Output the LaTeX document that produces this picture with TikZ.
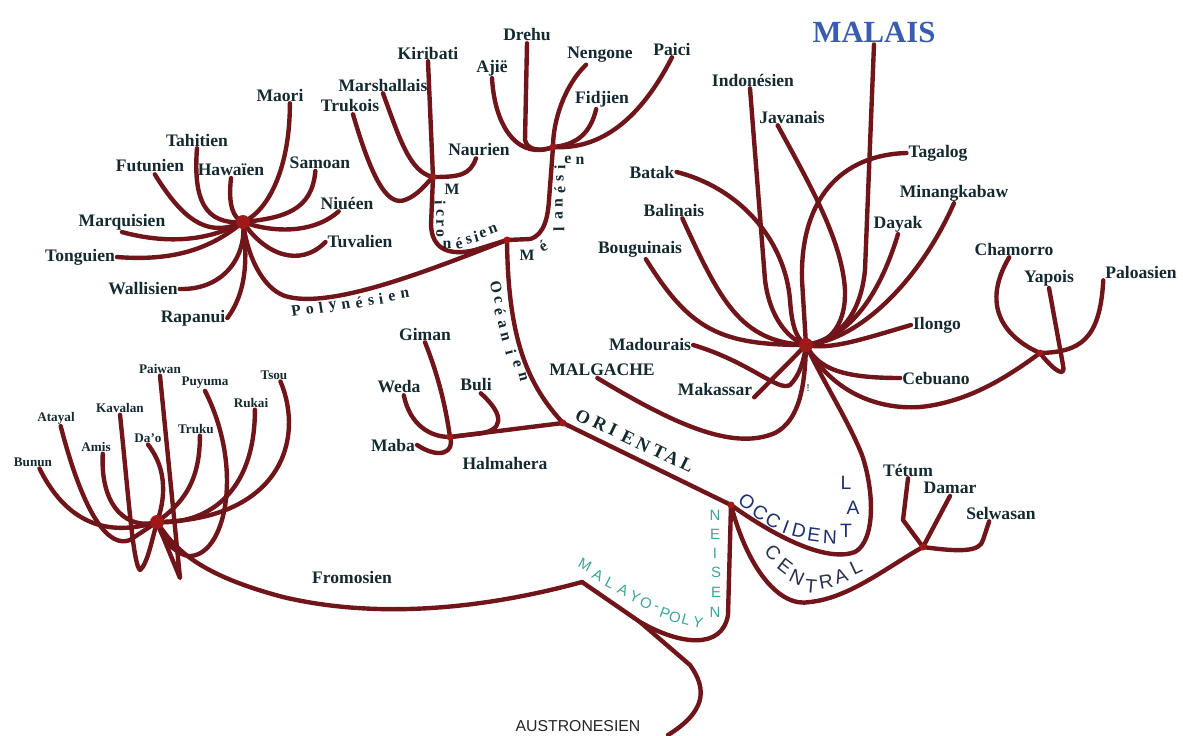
\documentclass[tikz,border=0pt]{standalone}
\usepackage{fontspec}
\setmainfont{Liberation Serif}
\setsansfont{Liberation Sans}

\definecolor{branch}{RGB}{112,22,26}
\definecolor{hubred}{RGB}{160,24,24}
\definecolor{ink}{RGB}{20,42,48}
\definecolor{malaisblue}{RGB}{58,92,175}
\definecolor{occblue}{RGB}{30,48,112}
\definecolor{centgrey}{RGB}{40,50,78}
\definecolor{mpteal}{RGB}{60,165,150}

\tikzset{
 br/.style={draw=branch,line width=2.5pt,line cap=round,line join=round},
 lang/.style={font=\fontsize{10}{12}\selectfont\bfseries,text=ink,inner sep=1pt},
 formo/.style={font=\fontsize{7.5}{8}\selectfont\bfseries,text=ink,inner sep=1pt},
 grp/.style={font=\fontsize{9}{10}\selectfont\bfseries,text=ink,inner sep=0pt},
 grpsans/.style={font=\fontsize{11}{12}\selectfont\sffamily,inner sep=0pt},
}

\begin{document}
\begin{tikzpicture}[x=.02cm,y=-.02cm]
 \fill[white] (0,0) rectangle (1183,735);
 \useasboundingbox (0,0) rectangle (1183,735);

 % junctions
 \coordinate (polyhub) at (243,222);
 \coordinate (microhub) at (433,177);
 \coordinate (melahub) at (553,147);
 \coordinate (polyjn) at (507,240);
 \coordinate (oriejn) at (563,423);
 \coordinate (halmajn) at (450,437);
 \coordinate (malhub) at (806,345);
 \coordinate (chamjn) at (1040,353);
 \coordinate (mpjn) at (731,505);
 \coordinate (tetjn) at (923,547);
 \coordinate (formhub) at (157,522);
 \coordinate (mpfjn) at (582,582);
 \coordinate (mpbr) at (640,622);
 \coordinate (rootend) at (668,735);

 % languages
 \foreach \n/\t/\x/\y in
  {maori/Maori/280/95,tahitien/Tahitien/197/140,hawaien/Hawaïen/231/170,futunien/Futunien/150/166,
   samoan/Samoan/320/163,niueen/Niuéen/347/203,marquisien/Marquisien/122/222,tuvalien/Tuvalien/360/242,
   tonguien/Tonguien/80/257,wallisien/Wallisien/143/289,rapanui/Rapanui/193/318,
   kiribati/Kiribati/428/53,marshallais/Marshallais/383/85,trukois/Trukois/350/106,naurien/Naurien/479/150,
   drehu/Drehu/527/35,ajie/Ajië/492/68,nengone/Nengone/600/55,fidjien/Fidjien/602/99,paici/Paici/672/49,
   indonesien/Indonésien/753/80,javanais/Javanais/792/117,tagalog/Tagalog/938/153,batak/Batak/652/172,
   balinais/Balinais/674/210,bouguinais/Bouguinais/640/249,dayak/Dayak/898/224,minangkabaw/Minangkabaw/954/193,
   ilongo/Ilongo/937/325,cebuano/Cebuano/936/378,makassar/Makassar/715/389,madourais/Madourais/650/345,
   malgache/MALGACHE/602/370,chamorro/Chamorro/1014/249,yapois/Yapois/1049/278,paloasien/Paloasien/1141/272,
   tetum/Tétum/908/470,damar/Damar/950/488,selwasan/Selwasan/1001/513,
   giman/Giman/425/334,weda/Weda/399/387,buli/Buli/476/385,maba/Maba/393/445,halmahera/Halmahera/505/463,
   fromosien/Fromosien/352/577}{
  \node[lang] (\n) at (\x,\y) {\t};}
 \foreach \n/\t/\x/\y in
  {paiwan/Paiwan/160/369,puyuma/Puyuma/205/383,tsou/Tsou/274/375,rukai/Rukai/251/403,kavalan/Kavalan/120/408,
   atayal/Atayal/56/418,truku/Truku/196/429,dao/Da'o/148/438,amis/Amis/96/447,bunun/Bunun/33/462}{
  \node[formo] (\n) at (\x,\y) {\t};}
 \node[lang,font=\fontsize{17.5}{20}\selectfont\bfseries,text=malaisblue] (malais) at (874,32) {MALAIS};
 \node[font=\fontsize{9}{10}\selectfont\sffamily,text=black!85,inner sep=0pt] (austro) at (578,726) {AUSTRONESIEN};
 \node[formo,font=\fontsize{6}{7}\selectfont] (bang) at (808,388) {!};

 % trunk
 \draw[br] (mpfjn) -- (mpbr) -- (690,665) .. controls (708,690) and (705,712) .. (rootend);
 \draw[br] (mpfjn) .. controls (450,618) and (350,613) .. (283,597) .. controls (200,575) and (175,550) .. (formhub);
 \draw[br] (mpbr) .. controls (680,645) and (722,650) .. (728,615) -- (mpjn);
 \draw[br] (mpjn) -- (oriejn);
 \draw[br] (oriejn) .. controls (528,385) and (508,340) .. (polyjn);
 \draw[br] (oriejn) -- (halmajn);
 \draw[br] (malgache.-120) .. controls (680,428) and (735,450) .. (775,433) .. controls (800,420) and (805,385) .. (malhub);
 \draw[br] (mpjn) .. controls (780,540) and (828,562) .. (855,552) .. controls (876,540) and (874,490) .. (862,455)
   .. controls (848,420) and (825,385) .. (malhub);
 \draw[br] (mpjn) .. controls (748,570) and (780,608) .. (810,602) .. controls (850,598) and (890,565) .. (tetjn);
 \draw[br] (malhub) .. controls (830,390) and (875,410) .. (920,407) .. controls (970,402) and (1010,375) .. (chamjn);
 \draw[br] (polyjn) .. controls (430,270) and (330,310) .. (285,296) .. controls (262,288) and (247,255) .. (polyhub);
 \draw[br] (polyjn) -- (475,250) .. controls (450,256) and (432,250) .. (431,225) -- (microhub);
 \draw[br] (polyjn) -- (530,239) .. controls (545,235) and (548,215) .. (549,200) -- (melahub);

 % Polynesian
 \foreach \f/\ax/\ay/\bx/\by in
  {maori.-40/290/165/270/210,tahitien.south/193/200/205/225,hawaien.south/228/205/233/218,
   futunien.-60/180/215/205/240,samoan.-120/312/210/285/218,niueen.-135/312/235/270/232,
   marquisien.south/170/245/210/240,tuvalien.west/300/268/265/255,tonguien.east/180/262/215/245,
   wallisien.east/225/290/247/255,rapanui.east/248/290/247/255}{
  \draw[br] (\f) .. controls (\ax,\ay) and (\bx,\by) .. (polyhub);}

 % Micronesian
 \draw[br] (kiribati.south) -- (microhub);
 \draw[br] (marshallais.south) .. controls (400,140) and (410,172) .. (microhub);
 \draw[br] (trukois.-70) .. controls (375,190) and (390,205) .. (405,200) .. controls (418,195) and (425,185) .. (microhub);
 \draw[br] (naurien.-110) .. controls (470,175) and (460,177) .. (microhub);

 % Melanesian
 \draw[br] (drehu.south) -- (525,140) .. controls (527,150) and (540,152) .. (melahub);
 \foreach \f/\ax/\ay/\bx/\by in
  {ajie.south/495/130/520/160,nengone.-145/565/85/553/120,fidjien.-120/590/135/575/145,paici.south/640/120/600/150}{
  \draw[br] (\f) .. controls (\ax,\ay) and (\bx,\by) .. (melahub);}

 % Malais
 \draw[br] (malais.south) -- (865,270) .. controls (860,320) and (835,340) .. (malhub);
 \draw[br] (indonesien.-110) -- (765,280) .. controls (770,320) and (790,340) .. (malhub);
 \draw[br] (javanais.-150) .. controls (810,185) and (842,240) .. (845,290) .. controls (846,330) and (825,345) .. (malhub);
 \draw[br] (tagalog.west) .. controls (840,155) and (800,200) .. (802,280) -- (malhub);
 \draw[br] (batak.east) .. controls (740,188) and (785,240) .. (790,300) .. controls (792,330) and (798,340) .. (malhub);
 \draw[br] (madourais.east) .. controls (750,362) and (778,392) .. (790,385) .. controls (800,375) and (804,360) .. (malhub);
 \draw[br] (makassar.south east) -- (malhub);
 \foreach \f/\ax/\ay/\bx/\by in
  {balinais.-45/720/300/740/342,minangkabaw.south/920/280/860/340,dayak.south/875/310/840/340,
   bouguinais.-60/690/330/720/345,ilongo.west/860/340/830/350,cebuano.west/840/378/818/368}{
  \draw[br] (\f) .. controls (\ax,\ay) and (\bx,\by) .. (malhub);}

 % Chamorro, Yapois, Paloasien
 \draw[br] (chamorro.-120) .. controls (978,310) and (1010,340) .. (chamjn);
 \draw[br] (yapois.south) -- (1063,365) .. controls (1066,378) and (1055,372) .. (chamjn);
 \draw[br] (paloasien.south west) .. controls (1100,340) and (1080,352) .. (chamjn);

 % Central
 \draw[br] (tetum.south) -- (903,520) -- (tetjn);
 \draw[br] (damar.south) -- (tetjn);
 \draw[br] (selwasan.-145) -- (983,540) .. controls (980,552) and (960,552) .. (tetjn);

 % Halmahera
 \draw[br] (giman.south) .. controls (440,380) and (446,410) .. (halmajn);
 \draw[br] (weda.-60) .. controls (410,425) and (430,437) .. (halmajn);
 \draw[br] (buli.-60) .. controls (505,415) and (505,432) .. (475,434) -- (halmajn);
 \draw[br] (maba.east) .. controls (440,460) and (455,452) .. (halmajn);

 % Formosan
 \draw[br] (paiwan.south) -- (180,578) -- (formhub);
 \draw[br] (puyuma.south) .. controls (245,470) and (225,558) .. (188,556) .. controls (172,552) and (162,538) .. (formhub);
 \draw[br] (kavalan.south) .. controls (128,490) and (133,565) .. (140,570) .. controls (147,565) and (152,540) .. (formhub);
 \draw[br] (atayal.-60) .. controls (85,520) and (110,548) .. (130,540) -- (formhub);
 \foreach \f/\ax/\ay/\bx/\by in
  {tsou.-45/305/440/280/520,rukai.-60/255/495/205/525,truku.-60/200/485/180/505,
   dao.south/168/470/165/500,amis.-45/100/510/130/530,bunun.-45/70/530/115/535}{
  \draw[br] (\f) .. controls (\ax,\ay) and (\bx,\by) .. (formhub);}

 \foreach \h in {polyhub,malhub,formhub}{
  \fill[hubred] (\h) circle (7);}
 \foreach \h in {microhub,melahub,polyjn,oriejn,halmajn,mpjn,tetjn,chamjn}{
  \fill[hubred] (\h) circle (3.5);}

 % branch names
 \foreach \c/\x/\y/\r [count=\i] in
  {P/296/311/9,o/310/310/9,l/321/308/9,y/333/307/9,n/346/305/9,é/359/303/9,s/371/301/9,i/381/299/9,e/392/297/9,n/405/294/9}{
  \node[grp,rotate=\r] (pol\i) at (\x,\y) {\c};}
 \foreach \c/\x/\y/\r [count=\i] in
  {M/452/189/0,i/440/203/-90,c/440/213/-90,r/440/223/-90,o/440/233/-90,n/447/245/0,é/459/243/12,s/469/240/15,
   i/476/237/15,e/483/234/18,n/493/229/20}{
  \node[grp,rotate=\r] (mic\i) at (\x,\y) {\c};}
 \foreach \c/\x/\y/\r [count=\i] in
  {M/527/255/0,é/543/246/30,l/559/229/90,a/559/216/90,n/559/203/90,é/560/190/90,s/560/178/90,i/560/167/90,
   e/568/160/0,n/580/161/0}{
  \node[grp,rotate=\r] (mel\i) at (\x,\y) {\c};}
 \foreach \c/\x/\y/\r [count=\i] in
  {O/496/287/-76,c/498/300/-76,é/500/312/-76,a/502/324/-76,n/505/337/-76,i/511/352/-76,e/517/364/-76,n/523/377/-76}{
  \node[grp,rotate=\r] (oce\i) at (\x,\y) {\c};}
 \foreach \c/\x/\y [count=\i] in
  {O/583/417,R/600/424,I/613/430,E/628/438,N/643/445,T/659/452,A/672/458,L/687/465}{
  \node[grp,font=\fontsize{10.5}{12}\selectfont\bfseries,rotate=-26] (ori\i) at (\x,\y) {\c};}
 \foreach \c/\x/\y/\r [count=\i] in
  {O/747/502/-38,C/760/513/-33,C/773/521/-27,I/786/527/-20,D/799/531/-14,E/814/535/-8,N/830/537/-3,
   T/846/531/0,A/853/508/0,L/846/483/0}{
  \node[grpsans,text=occblue,rotate=\r] (occ\i) at (\x,\y) {\c};}
 \foreach \c/\x/\y/\r [count=\i] in
  {C/773/553/-45,E/785/566/-38,N/797/577/-25,T/811/586/-5,R/826/582/10,A/841/576/18,L/856/567/25}{
  \node[grpsans,text=centgrey,rotate=\r] (cen\i) at (\x,\y) {\c};}
 \foreach \c/\x/\y/\r [count=\i] in
  {M/585/565/-28,A/598/575/-28,L/610/583/-27,A/623/590/-26,Y/635/597/-25,O/646/603/-24,-/656/608/-22,
   P/665/613/-20,O/675/617/-18,L/686/620/-15,Y/698/622/-12,N/715/612/0,E/716/592/0,S/716/572/0,I/715/553/0,
   E/715/534/0,N/715/515/0}{
  \node[grpsans,font=\fontsize{8.5}{10}\selectfont\sffamily,text=mpteal,rotate=\r] (mp\i) at (\x,\y) {\c};}
\end{tikzpicture}
\end{document}
